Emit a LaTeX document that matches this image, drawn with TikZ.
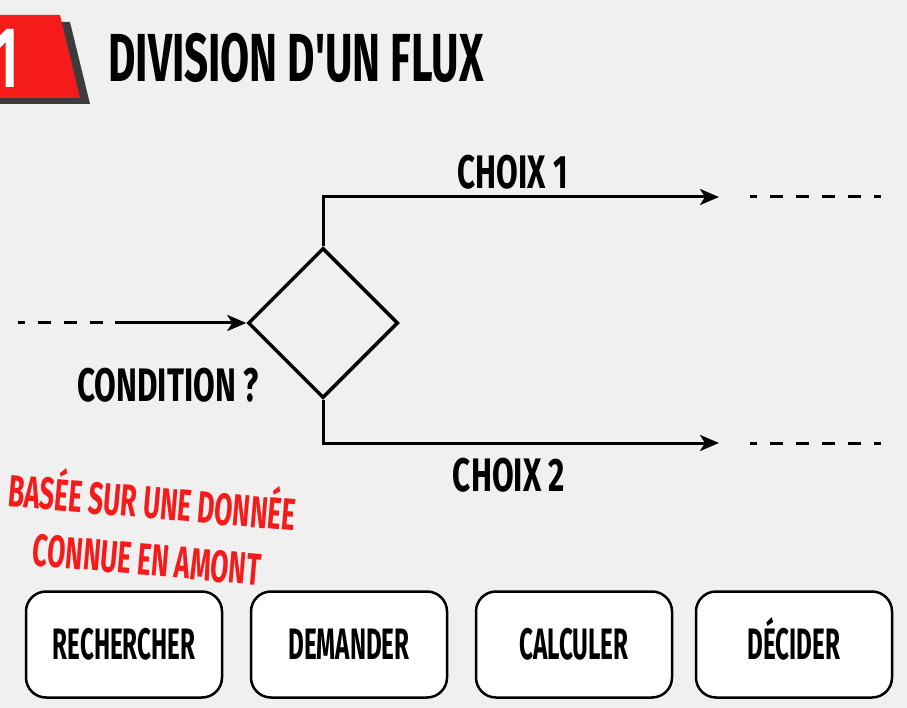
\documentclass[tikz,border=0pt]{standalone}
\usepackage{fontspec}
\newfontfamily\condfont{Fira Sans}
\usetikzlibrary{arrows.meta,shapes.geometric,positioning}
\definecolor{bggray}{HTML}{F0F0F0}
\definecolor{flagred}{HTML}{F51B1B}
\definecolor{shadowgray}{HTML}{3C3C3C}
\newcommand{\cfont}[2]{\condfont\bfseries\addfontfeatures{FakeStretch=#1}\fontsize{#2}{#2}\selectfont}

\begin{document}
\begin{tikzpicture}[x=1pt, y=-1pt, >={Stealth[length=19pt, width=16pt, inset=5pt]},
  every node/.style={inner sep=0pt},
  flow/.style={line width=3pt},
  dots/.style={line width=3pt, dash pattern=on 13pt off 13pt},
  lbl/.style={font=\cfont{0.67}{47}},
  btn/.style={draw, line width=2.5pt, fill=white, rounded corners=20pt,
    minimum width=196pt, minimum height=106pt, text height=30pt, text depth=0pt,
    font=\cfont{0.55}{44}}]
  \fill[bggray] (0,0) rectangle (907,708);
  \clip (0,0) rectangle (907,708);

  % badge and title
  \fill[shadowgray] (0,22) -- (70,22) -- (90,104) -- (0,104) -- cycle;
  \fill[flagred] (0,15) -- (60,15) -- (80,98) -- (0,98) -- cycle;
  \node[anchor=east, white, font=\cfont{0.6}{86}] (num) at (19,58) {1};
  \node[anchor=west, font=\cfont{0.62}{68}] (title) at (108,58) {DIVISION D'UN FLUX};

  % decision
  \node[diamond, draw, line width=3.5pt, aspect=1, minimum width=150pt, minimum height=150pt] (cond) at (323,323) {};
  \node[lbl] (condlbl) at (168,385) {CONDITION ?};

  \coordinate (inS) at (18,323);
  \coordinate (inM) at (115,323);
  \draw[dots, dash phase=6pt] (inS) -- (inM);
  \draw[flow, ->] (inM) -- (cond.west);

  \coordinate (out1) at (719,197);
  \coordinate (out2) at (719,443);
  \draw[flow, ->] (cond.north) |- (out1);
  \draw[flow, ->] (cond.south) |- (out2);
  \node[lbl] (choix1) at (513,172) {CHOIX 1};
  \node[lbl] (choix2) at (509,475) {CHOIX 2};

  \foreach \n/\y in {1/197, 2/443} {
    \coordinate (dA\n) at (750,\y);
    \coordinate (dB\n) at (881,\y);
    \draw[dots, dash phase=6pt] (dA\n) -- (dB\n);
  }

  \node[text=flagred, align=center, rotate=-5, font=\cfont{0.585}{45}\fontsize{45}{57}\selectfont] (note) at (150,526)
    {BASÉE SUR UNE DONNÉE\\CONNUE EN AMONT};

  % actions
  \foreach \name/\txt/\x in {rech/RECHERCHER/124, dem/DEMANDER/349, calc/CALCULER/574, dec/DÉCIDER/794}
    \node[btn] (\name) at (\x,644.5) {\txt};
\end{tikzpicture}
\end{document}
